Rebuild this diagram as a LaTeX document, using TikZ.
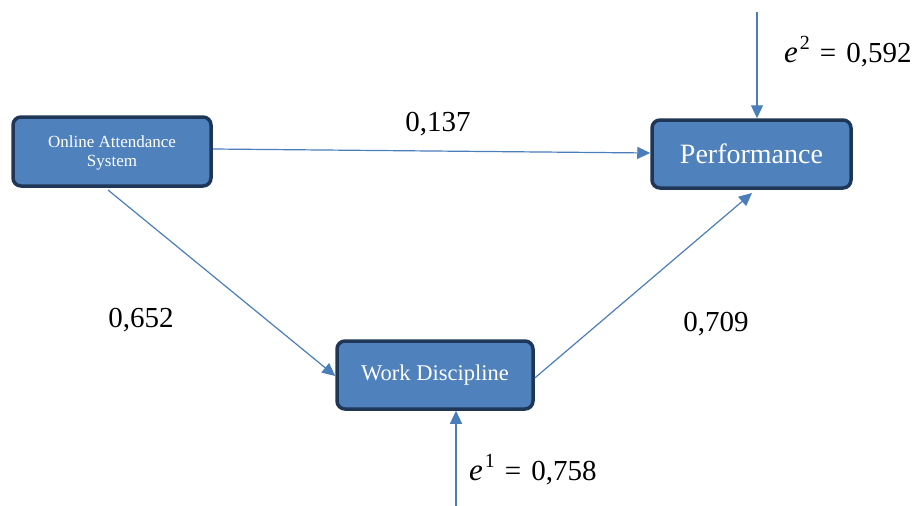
\documentclass[tikz,border=0pt]{standalone}
\usepackage{fontspec}
\setmainfont{Liberation Serif}
\usetikzlibrary{arrows.meta}
\definecolor{boxfill}{HTML}{4F81BD}
\definecolor{boxline}{HTML}{1F3656}
\definecolor{arrowc}{HTML}{4A7EBB}
\tikzset{
  varbox/.style={draw=boxline, line width=3.5pt, fill=boxfill, rounded corners=8pt, text=white, align=center, inner sep=0pt},
  conn/.style={draw=arrowc, line width=1.2pt, -{Triangle[length=13pt,width=12pt]}},
  coef/.style={font=\fontsize{29}{32}\selectfont, inner sep=0pt},
}
\newcommand{\errlab}[2]{{\fontsize{31}{32}\selectfont\textit{e}}\kern2pt\raisebox{0.45em}{\fontsize{20}{21}\selectfont #1}\kern10pt=\kern10pt #2}
\begin{document}
\begin{tikzpicture}[x=1pt,y=-1pt]
\useasboundingbox (0,0) rectangle (921,506);
\node[varbox, minimum width=198pt, minimum height=69pt] (oas) at (112,151.5) {};
\node[text=white, align=center, font=\fontsize{17}{19}\selectfont, inner sep=0pt] (oastxt) at (112,153) {Online Attendance\\System};
\node[varbox, minimum width=199pt, minimum height=68pt, font=\fontsize{28}{30}\selectfont] (perf) at (751.5,154) {Performance};
\node[varbox, minimum width=196pt, minimum height=68pt, font=\fontsize{22.5}{24}\selectfont] (wd) at (435,375) {Work Discipline};
\coordinate (e2s) at (757,12);
\coordinate (e1s) at (456,506);
\draw[conn] (oas.east |- 0,149) -- (perf.west |- 0,153);
\draw[conn] (108,190) -- (wd.west |- 0,376);
\draw[conn] (wd.east |- 0,378) -- (752,193);
\draw[conn] (e2s) -- (perf.north -| e2s);
\draw[conn] (e1s) -- (wd.south -| e1s);
\node[coef] (l1) at (438,124) {0,137};
\node[coef] (l2) at (141,320) {0,652};
\node[coef] (l3) at (716,324) {0,709};
\node[coef, anchor=west] (l4) at (784,52) {\errlab{2}{0,592}};
\node[coef, anchor=west] (l5) at (469,470) {\errlab{1}{0,758}};
\end{tikzpicture}
\end{document}
